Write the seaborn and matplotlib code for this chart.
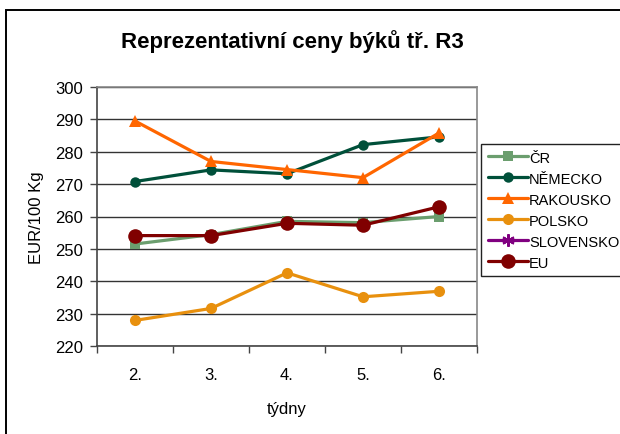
import numpy as np
import pandas as pd
import matplotlib
matplotlib.use("Agg")
import matplotlib.pyplot as plt
from matplotlib.patches import Rectangle
import seaborn as sns

weeks = ["2.", "3.", "4.", "5.", "6."]
cr = [251.5, 254.4, 258.5, 258.1, 260.0]
nemecko = [270.8, 274.4, 273.2, 282.2, 284.6]
rakousko = [289.5, 277.0, 274.5, 272.0, 285.8]
polsko = [227.9, 231.6, 242.6, 235.2, 236.9]
slovensko = [np.nan, np.nan, np.nan, np.nan, np.nan]
eu = [254.1, 254.1, 257.9, 257.3, 263.0]

series_names = ["ČR", "NĚMECKO", "RAKOUSKO", "POLSKO", "SLOVENSKO", "EU"]
series_values = [cr, nemecko, rakousko, polsko, slovensko, eu]
colors = ["#6B9E6E", "#00503A", "#FF6600", "#E8900E", "#800080", "#800000"]
markers = ["s", "o", "^", "o", (6, 2, 0), "o"]
msizes = [6.5, 7.5, 9, 8, 9, 10.5]

sns.set_style("white")
plt.rcParams["font.family"] = ["Liberation Sans", "DejaVu Sans"]
plt.rcParams["text.color"] = "black"
plt.rcParams["axes.labelcolor"] = "black"
plt.rcParams["xtick.color"] = "black"
plt.rcParams["ytick.color"] = "black"

fig = plt.figure(figsize=(6.2, 4.35), dpi=100)
ax = fig.add_axes([97/620, 1-347/435, 380/620, 259/435])

for name, vals, c, m, ms in zip(series_names, series_values, colors, markers, msizes):
    if all(np.isnan(v) for v in vals):
        ax.plot(weeks, vals, color=c, marker=m, markersize=ms, linewidth=2.3,
                markeredgewidth=1.5, label=name)
    else:
        sns.lineplot(x=weeks, y=vals, color=c, marker=m, markersize=ms, linewidth=2.3,
                     markeredgecolor=c, markeredgewidth=0, ax=ax, label=name, sort=False)

ax.set_xlim(-0.5, 4.5)
ax.set_ylim(220, 300)
ax.set_yticks(np.arange(220, 301, 10))
ax.yaxis.grid(True, color="#333333", linewidth=1.0)
ax.xaxis.grid(False)
ax.set_axisbelow(True)

ax.set_xticks(range(len(weeks)))
ax.set_xticklabels(weeks)
ax.set_xticks(np.arange(-0.5, 4.6, 1), minor=True)
ax.tick_params(axis="x", which="major", length=0, pad=15, labelsize=12, labelcolor="black")
ax.tick_params(axis="x", which="minor", length=5, width=1, color="#444444", direction="out", bottom=True)
ax.tick_params(axis="y", which="major", length=5, width=1, color="#444444", direction="out", left=True,
               pad=5, labelsize=12, labelcolor="black")

for s in ["left", "bottom"]:
    ax.spines[s].set_color("#444444")
    ax.spines[s].set_linewidth(1.2)
for s in ["top", "right"]:
    ax.spines[s].set_visible(True)
    ax.spines[s].set_color("#888888")
    ax.spines[s].set_linewidth(1.2)

ax.set_xlabel("týdny", fontsize=12, labelpad=14, color="black")
ax.set_ylabel("EUR/100 Kg", fontsize=12, labelpad=8, color="black")
fig.text(292/620, 1-42/435, "Reprezentativní ceny býků tř. R3", ha="center", va="center",
         fontsize=16, fontweight="bold", color="black")

handles, labels = ax.get_legend_handles_labels()
leg = ax.legend(handles, labels, loc="upper left", bbox_to_anchor=(481/620, 1-145/435),
                bbox_transform=fig.transFigure, frameon=True, fancybox=False,
                edgecolor="#222222", framealpha=1, fontsize=10.5, handlelength=2.8,
                handletextpad=0.05, labelspacing=0.48, borderpad=0.45, borderaxespad=0)
leg.get_frame().set_linewidth(1.0)
for t in leg.get_texts():
    t.set_color("black")

fig.patches.append(Rectangle((6/620, -0.1), 1.2, 1-11/435+0.1, transform=fig.transFigure,
                             fill=False, edgecolor="black", linewidth=1.4))

fig.savefig("out.png", dpi=100)
